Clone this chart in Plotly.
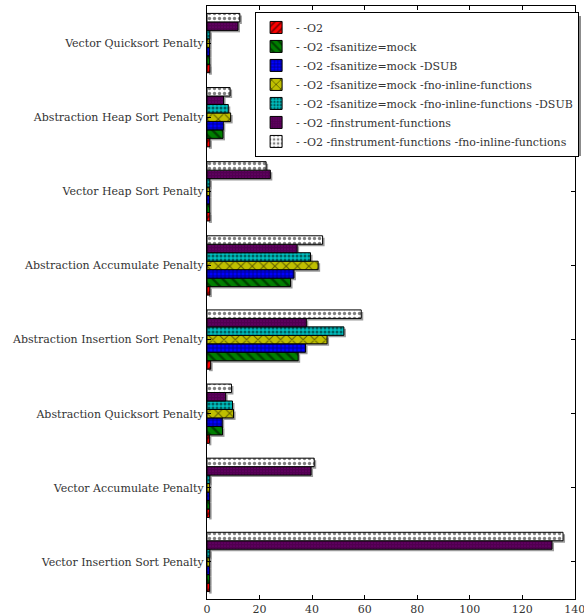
import plotly.graph_objects as go

# Benchmark categories, listed bottom to top on the y axis
categories = [
    "Vector Insertion Sort Penalty",
    "Vector Accumulate Penalty",
    "Abstraction Quicksort Penalty",
    "Abstraction Insertion Sort Penalty",
    "Abstraction Accumulate Penalty",
    "Vector Heap Sort Penalty",
    "Abstraction Heap Sort Penalty",
    "Vector Quicksort Penalty",
]

series_names = [
    "- -O2",
    "- -O2 -fsanitize=mock",
    "- -O2 -fsanitize=mock -DSUB",
    "- -O2 -fsanitize=mock -fno-inline-functions",
    "- -O2 -fsanitize=mock -fno-inline-functions -DSUB",
    "- -O2 -finstrument-functions",
    "- -O2 -finstrument-functions -fno-inline-functions",
]

o2 = [1.0, 1.0, 0.9, 1.4, 1.1, 1.1, 1.1, 1.1]
o2_sanitize = [1.0, 1.0, 5.9, 34.7, 31.8, 1.0, 6.1, 1.0]
o2_sanitize_dsub = [1.0, 1.0, 5.8, 37.5, 33.1, 1.0, 6.2, 1.0]
o2_sanitize_noinline = [1.0, 1.0, 10.1, 45.7, 42.3, 1.0, 9.0, 1.0]
o2_sanitize_noinline_dsub = [1.1, 1.1, 9.7, 52.1, 39.4, 1.1, 8.1, 1.1]
o2_instrument = [131.3, 39.6, 7.1, 37.8, 34.3, 24.1, 6.3, 11.8]
o2_instrument_noinline = [135.5, 40.8, 9.3, 58.7, 44.0, 22.5, 8.8, 12.5]

series_values = [
    o2, o2_sanitize, o2_sanitize_dsub, o2_sanitize_noinline,
    o2_sanitize_noinline_dsub, o2_instrument, o2_instrument_noinline,
]

x_ticks = [0, 20, 40, 60, 80, 100, 120, 140]

# fill colour, hatch shape, hatch size, hatch solidity
styles = [
    ("#ff0000", "/", 6, 0.35),
    ("#007f00", "\\", 7, 0.35),
    ("#0000ff", "+", 4, 0.35),
    ("#bfbf00", "x", 8, 0.25),
    ("#00bfbf", ".", 4, 0.45),
    ("#a000a0", ".", 3, 0.85),
    ("#ffffff", ".", 5, 0.35),
]

W, H = 584, 615
ML, MR, MT, MB = 207, 7, 6, 14
SH = 2  # drop-shadow offset in pixels
pw = W - ML - MR
ph = H - MT - MB

FONT = "DejaVu Serif"
TXT = "#333333"
FS = 11


def px_x(p):
    return (p - ML) / pw


def px_y(p):
    return (H - MB - p) / ph


fig = go.Figure()

# grey drop shadows behind every bar (hidden axes, shifted a couple of pixels)
for vals in series_values:
    fig.add_trace(go.Bar(
        y=categories, x=vals, orientation="h",
        marker=dict(color="#9a9a9a", line=dict(width=0)),
        xaxis="x", yaxis="y", showlegend=False, hoverinfo="skip",
    ))

# hatched bars
for name, vals, (col, shape, size, sol) in zip(series_names, series_values, styles):
    fig.add_trace(go.Bar(
        y=categories, x=vals, orientation="h", name=name,
        marker=dict(
            color=col,
            line=dict(color="black", width=1),
            pattern=dict(shape=shape, fgcolor="black", bgcolor=col,
                         fillmode="overlay", size=size, solidity=sol),
        ),
        xaxis="x2", yaxis="y2",
    ))

axis_common = dict(showgrid=False, zeroline=False)

fig.update_layout(
    width=W, height=H,
    margin=dict(l=ML, r=MR, t=MT, b=MB, pad=0, autoexpand=False),
    paper_bgcolor="white",
    plot_bgcolor="rgba(0,0,0,0)",
    barmode="group",
    bargap=0.2,
    bargroupgap=0,
    font=dict(family=FONT, size=FS, color=TXT),
    xaxis=dict(domain=[SH / pw, 1], range=[0, 140.05], visible=False, **axis_common),
    yaxis=dict(domain=[0, 1 - SH / ph], range=[-0.5, 7.5], visible=False,
               type="category", categoryorder="array", categoryarray=categories,
               **axis_common),
    xaxis2=dict(
        domain=[0, 1 - SH / pw], range=[0, 140.05], anchor="y2",
        tickvals=x_ticks, ticks="inside", ticklen=4, tickcolor="black",
        showline=True, linecolor="black", linewidth=1.2, mirror="ticks",
        ticklabeloverflow="allow",
        tickfont=dict(family=FONT, size=FS, color=TXT), **axis_common,
    ),
    yaxis2=dict(
        domain=[SH / ph, 1], range=[-0.5, 7.5], anchor="x2",
        type="category", categoryorder="array", categoryarray=categories,
        ticks="inside", ticklen=4, tickcolor="black",
        showline=True, linecolor="black", linewidth=1.2, mirror="ticks",
        tickfont=dict(family=FONT, size=FS, color=TXT), **axis_common,
    ),
    legend=dict(
        x=0.13, y=0.99, xanchor="left", yanchor="top",
        bgcolor="white", bordercolor="black", borderwidth=1,
        font=dict(family=FONT, size=FS, color=TXT),
        traceorder="normal", tracegroupgap=0,
    ),
    # soft drop shadow under the legend box
    shapes=[dict(
        type="rect", xref="paper", yref="paper", layer="above",
        x0=px_x(259), x1=px_x(581), y0=px_y(156), y1=px_y(16),
        fillcolor="#8c8c8c", line=dict(width=0),
    )],
)

fig.write_html("out.html")
